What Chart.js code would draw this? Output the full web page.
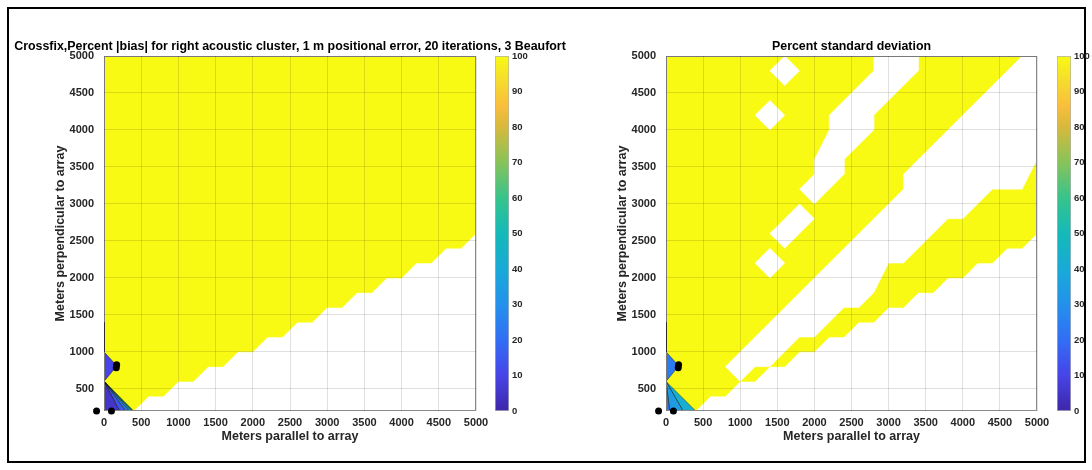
<!DOCTYPE html>
<html>
<head>
<meta charset="utf-8">
<script src="https://cdn.jsdelivr.net/npm/chart.js@4.4.1/dist/chart.umd.min.js"></script>
<style>
  html, body { margin: 0; padding: 0; background: #fff; }
  #fig { position: relative; width: 1092px; height: 470px; overflow: hidden; background: #fff; }
  #fig canvas { position: absolute; top: 0; }
  .frame { position: absolute; left: 7px; top: 7px; width: 1075px; height: 452px; border: 2px solid #000; }
</style>
</head>
<body>
<div id="fig">
  <div class="frame"></div>
  <canvas id="biasPlot" width="600" height="470" style="left:0"></canvas>
  <canvas id="biasBar" width="66" height="470" style="left:480px"></canvas>
  <canvas id="stdPlot" width="530" height="470" style="left:562px"></canvas>
  <canvas id="stdBar" width="50" height="470" style="left:1042px"></canvas>
</div>
<script>
Chart.defaults.font.family = "'Liberation Sans', Arial, Helvetica, sans-serif";
Chart.defaults.color = '#262626';

const xTicks = [0, 500, 1000, 1500, 2000, 2500, 3000, 3500, 4000, 4500, 5000];
const yTicks = [500, 1000, 1500, 2000, 2500, 3000, 3500, 4000, 4500, 5000];
const colorTicks = [0, 10, 20, 30, 40, 50, 60, 70, 80, 90, 100];

// hydrophones (m); the two at y = 200 sit on and just outside the axis
const phoneX = [-100, 100, 165, 170];
const phoneY = [200, 200, 785, 825];

// lower-right edge of the computed field (200 m grid), same in both panels
const edgeX = [400, 600, 800, 1000, 1200, 1400, 1600, 1800, 2000, 2200, 2400, 2600,
               2800, 3000, 3200, 3400, 3600, 3800, 4000, 4200, 4400, 4600, 4800, 5000];
const edgeY = [200, 400, 400, 600, 600, 800, 800, 1000, 1000, 1200, 1200, 1400,
               1400, 1600, 1600, 1800, 1800, 2000, 2000, 2200, 2200, 2400, 2400, 2600];

// near-field wedge under 600 m: band edges along y = 200 and band levels (%)
const biasWedgeCuts = [0, 210, 290, 335, 365, 388, 400];
const biasWedgeLevels = [5, 14, 24, 34, 46, 60];
const stdWedgeCuts = [0, 50, 230, 400];
const stdWedgeLevels = [22, 34, 42];

// small patch between 600 m and 1000 m beside the array
const patchX = [0, 150, 170, 150, 0];
const patchY = [600, 780, 805, 835, 1000];
const biasPatchLevel = 10;
const stdPatchLevel = 24;

// std panel: undefined (white) areas
const gapLowX = [800, 3200, 3200, 4800, 5000, 5000, 4800, 4400, 4200, 4000, 3800, 3600,
                 3400, 3200, 3000, 2800, 2600, 2400, 2200, 2000, 1800, 1600, 1400, 1200, 1000];
const gapLowY = [800, 3200, 3400, 5000, 5000, 3600, 3200, 3200, 3000, 2800, 2800, 2600,
                 2400, 2200, 2200, 1800, 1600, 1600, 1400, 1200, 1200, 1000, 800, 800, 600];
const gapMidX = [1800, 2000, 2000, 2200, 2200, 2600, 2800, 2800, 3400, 3400, 2800, 2800, 2400, 2400, 2000];
const gapMidY = [3200, 3400, 3600, 4000, 4200, 4600, 4800, 5000, 5000, 4800, 4200, 4000, 3600, 3400, 3000];
const holeX = [1600, 1400, 1400];
const holeY = [4800, 4200, 2200];
const slotX = [1400, 1800, 2000, 1600];
const slotY = [2600, 3000, 2800, 2400];
const gridStep = 200;

const parulaStops = [
  [0.00, 62, 38, 168], [0.10, 71, 68, 232], [0.20, 50, 110, 245], [0.30, 35, 145, 235],
  [0.40, 25, 170, 215], [0.50, 20, 185, 185], [0.60, 55, 195, 140], [0.70, 135, 195, 90],
  [0.80, 215, 185, 60], [0.86, 250, 190, 60], [0.93, 245, 220, 45], [1.00, 249, 250, 20]
];

function parula(v) {
  const t = Math.min(1, Math.max(0, v / 100));
  for (let i = 1; i < parulaStops.length; i++) {
    const [t1, ...c1] = parulaStops[i];
    if (t <= t1) {
      const [t0, ...c0] = parulaStops[i - 1];
      const f = (t - t0) / (t1 - t0);
      return 'rgb(' + c0.map((c, k) => Math.round(c + (c1[k] - c) * f)).join(',') + ')';
    }
  }
  return 'rgb(249,250,20)';
}

const closed = (xs, ys) => {
  const p = xs.map((x, i) => ({ x, y: ys[i] }));
  p.push(p[0]);
  return p;
};

function area(data, color, order, line) {
  return {
    data, showLine: true, fill: 'shape', tension: 0, pointRadius: 0,
    backgroundColor: color, borderColor: line || color, borderWidth: line ? 0.6 : 0.5, order
  };
}

function fieldSet() {
  const xs = [0, 0, 5000, ...edgeX.slice().reverse()];
  const ys = [200, 5000, 5000, ...edgeY.slice().reverse()];
  return area(closed(xs, ys), parula(100), 10);
}

function wedgeSets(cuts, levels) {
  return levels.map((lv, i) =>
    area(closed([0, cuts[i], cuts[i + 1]], [600, 200, 200]), parula(lv), 8, 'rgba(0,0,0,0.7)'));
}

function nearSets(cuts, levels, patchLevel) {
  return [
    ...wedgeSets(cuts, levels),
    area(closed(patchX, patchY), parula(patchLevel), 8, 'rgba(0,0,0,0.7)')
  ];
}

const panelTitle = {
  id: 'panelTitle',
  afterDraw(chart, args, opts) {
    const { ctx, chartArea } = chart;
    ctx.save();
    ctx.font = 'bold ' + opts.size + 'px ' + Chart.defaults.font.family;
    ctx.fillStyle = '#000';
    ctx.textAlign = 'center';
    ctx.textBaseline = 'middle';
    ctx.fillText(opts.text, (chartArea.left + chartArea.right) / 2, chartArea.top - 9);
    ctx.restore();
  }
};

// axes box, the edge contour at x = 0 and the hydrophone markers
// (markers may sit outside the axes, so they are drawn unclipped)
const axisBox = {
  id: 'axisBox',
  afterDatasetsDraw(chart) {
    const { ctx, chartArea: a, scales: { x, y } } = chart;
    ctx.save();
    ctx.strokeStyle = '#8a8a8a';
    ctx.lineWidth = 1;
    ctx.strokeRect(a.left + 0.5, a.top + 0.5, a.width - 1, a.height - 1);
    ctx.strokeStyle = '#333';
    ctx.beginPath();
    ctx.moveTo(x.getPixelForValue(0) + 0.5, y.getPixelForValue(1000));
    ctx.lineTo(x.getPixelForValue(0) + 0.5, y.getPixelForValue(1400));
    ctx.stroke();
    ctx.fillStyle = '#000';
    phoneX.forEach((px, i) => {
      ctx.beginPath();
      ctx.arc(x.getPixelForValue(px), y.getPixelForValue(phoneY[i]), 3.5, 0, Math.PI * 2);
      ctx.fill();
    });
    ctx.restore();
  }
};

function fieldChart(id, title, padRight, datasets) {
  const tickFont = { size: 11, weight: 'bold' };
  const labelFont = { size: 12.5, weight: 'bold' };
  return new Chart(document.getElementById(id), {
    type: 'scatter',
    data: { datasets },
    options: {
      responsive: false, animation: false, devicePixelRatio: 1,
      layout: { padding: { left: 8, right: padRight, top: 56, bottom: 0 } },
      plugins: {
        legend: { display: false }, tooltip: { enabled: false },
        panelTitle: { text: title, size: 12.4 }
      },
      scales: {
        x: {
          type: 'linear', min: 0, max: 5000,
          afterBuildTicks: s => { s.ticks = xTicks.map(v => ({ value: v })); },
          afterFit: s => { s.height = 59; s.paddingLeft = 0; s.paddingRight = 0; },
          grid: { color: 'rgba(0,0,0,0.12)', drawTicks: false, z: 1 },
          border: { display: false },
          ticks: { padding: 5, font: tickFont, maxRotation: 0, autoSkip: false, callback: v => String(v) },
          title: { display: true, text: 'Meters parallel to array', font: labelFont, color: '#262626',
                   padding: { top: 0, bottom: 26 } }
        },
        y: {
          type: 'linear', min: 200, max: 5000,
          afterBuildTicks: s => { s.ticks = yTicks.map(v => ({ value: v })); },
          afterFit: s => { s.width = 96; s.paddingTop = 0; s.paddingBottom = 0; },
          grid: { color: 'rgba(0,0,0,0.12)', drawTicks: false, z: 1 },
          border: { display: false },
          ticks: { padding: 10, font: tickFont, autoSkip: false, callback: v => String(v) },
          title: { display: true, text: 'Meters perpendicular to array', font: labelFont, color: '#262626',
                   padding: { top: 45.5, bottom: 0 } }
        }
      }
    },
    plugins: [panelTitle, axisBox]
  });
}

function barGradient(chart) {
  const a = chart.chartArea;
  if (!a) return null;
  const g = chart.ctx.createLinearGradient(0, a.bottom, 0, a.top);
  parulaStops.forEach(s => g.addColorStop(s[0], 'rgb(' + s[1] + ',' + s[2] + ',' + s[3] + ')'));
  return g;
}

function colorBar(id, width) {
  return new Chart(document.getElementById(id), {
    type: 'bar',
    data: {
      labels: [''],
      datasets: [{
        data: [100], backgroundColor: c => barGradient(c.chart),
        borderColor: 'rgba(0,0,0,0.3)', borderWidth: 1, borderSkipped: false,
        barPercentage: 1, categoryPercentage: 1
      }]
    },
    options: {
      responsive: false, animation: false, devicePixelRatio: 1,
      layout: { padding: { left: 15, right: 0, top: 56, bottom: 59 } },
      plugins: { legend: { display: false }, tooltip: { enabled: false } },
      scales: {
        x: { display: false },
        y: {
          position: 'right', min: 0, max: 100,
          afterBuildTicks: s => { s.ticks = colorTicks.map(v => ({ value: v })); },
          afterFit: s => { s.width = width - 29; s.paddingTop = 0; s.paddingBottom = 0; },
          grid: { display: false, drawTicks: false }, border: { display: false },
          ticks: { padding: 3, font: { size: 9.5, weight: 'bold' } }
        }
      }
    }
  });
}

fieldChart('biasPlot',
  'Crossfix,Percent |bias| for right acoustic cluster, 1 m positional error, 20 iterations, 3 Beaufort',
  124,
  [fieldSet(), ...nearSets(biasWedgeCuts, biasWedgeLevels, biasPatchLevel)]);

const white = '#ffffff';
fieldChart('stdPlot', 'Percent standard deviation', 55, [
  fieldSet(),
  area(closed(gapLowX, gapLowY), white, 9),
  area(closed(gapMidX, gapMidY), white, 9),
  ...holeX.map((cx, i) => area(closed([cx - gridStep, cx, cx + gridStep, cx],
    [holeY[i], holeY[i] + gridStep, holeY[i], holeY[i] - gridStep]), white, 9)),
  area(closed(slotX, slotY), white, 9),
  ...nearSets(stdWedgeCuts, stdWedgeLevels, stdPatchLevel)
]);

colorBar('biasBar', 66);
colorBar('stdBar', 50);
</script>
</body>
</html>
